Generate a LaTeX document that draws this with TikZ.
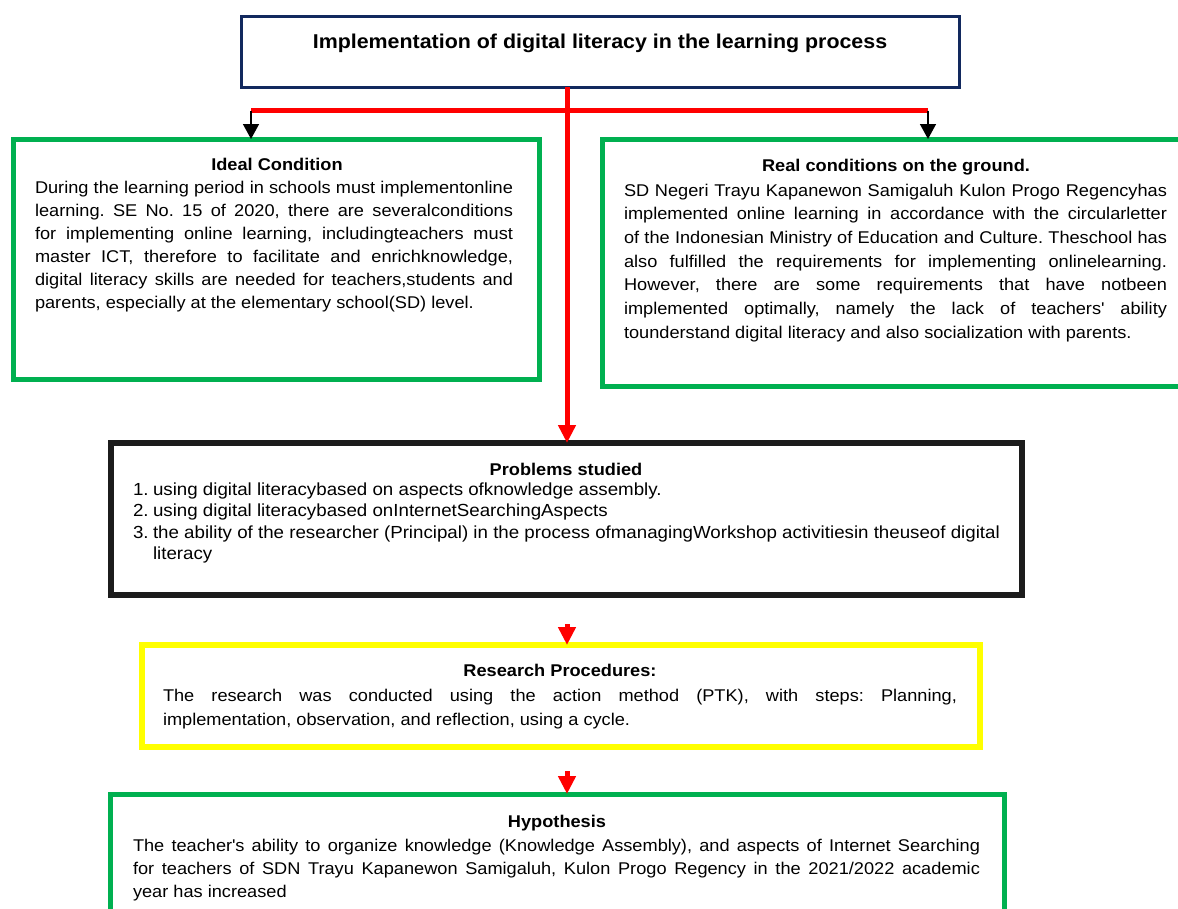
\documentclass[tikz,border=0pt]{standalone}
\usepackage{fontspec}
\setmainfont{Liberation Sans}[FakeStretch=1.07]
\usetikzlibrary{arrows.meta}
\definecolor{navy}{HTML}{12295E}
\definecolor{grn}{HTML}{00B050}
\definecolor{ylw}{HTML}{FFFF00}
\definecolor{blk}{HTML}{1C1C1C}
\definecolor{rd}{HTML}{FF0000}
\frenchspacing
\newcommand{\jl}[2]{\makebox[#1][s]{#2}}
\newcommand{\bodytext}[4][17]{\parbox[t]{#2}{\fontsize{#1}{#3}\selectfont\frenchspacing #4}}
\tikzset{
  box/.style={draw, rectangle, inner sep=0pt, outer sep=0pt},
  body/.style={inner sep=0pt, outer sep=0pt, anchor=base west},
  head/.style={inner sep=0pt, outer sep=0pt, anchor=base, font=\bfseries\fontsize{17}{23}\selectfont},
  redarrow/.style={draw=rd, line width=5pt, -{Triangle[width=17pt,length=18pt]}},
  redline/.style={draw=rd, line width=5.5pt},
  blackarrow/.style={draw=black, line width=1.5pt, -{Triangle[width=16pt,length=15pt]}},
}
\begin{document}
\begin{tikzpicture}[x=1pt,y=-1pt]
\useasboundingbox (0,0) rectangle (1178,908);
% boxes
\node[box, draw=navy, line width=3pt, minimum width=718pt, minimum height=71pt] (top) at (600,51.5) {};
\node[box, draw=grn, line width=5pt, minimum width=526pt, minimum height=240pt] (ideal) at (276,259) {};
\node[box, draw=grn, line width=5pt, minimum width=583pt, minimum height=247pt] (real) at (893.5,262.5) {};
\node[box, draw=blk, line width=6pt, minimum width=911pt, minimum height=152pt] (prob) at (566.5,519) {};
\node[box, draw=ylw, line width=6pt, minimum width=838pt, minimum height=102pt] (research) at (561,696) {};
\node[box, draw=grn, line width=5pt, minimum width=894pt, minimum height=126pt] (hypo) at (557,857) {};
% texts
\node[inner sep=0pt, anchor=base, font=\bfseries\fontsize{20}{24}\selectfont] (title) at (600,48) {Implementation of digital literacy in the learning process};
\node[head] (idealhead) at (277,170) {Ideal Condition};
\node[body] (idealbody) at (35,193) {\bodytext{478pt}{23}{%
\jl{478pt}{During the learning period in schools must implementonline}\\
\jl{478pt}{learning. SE No. 15 of 2020, there are severalconditions}\\
\jl{478pt}{for implementing online learning, includingteachers must}\\
\jl{478pt}{master ICT, therefore to facilitate and enrichknowledge,}\\
\jl{478pt}{digital literacy skills are needed for teachers,students and}\\
parents, especially at the elementary school(SD) level.}};
\node[head] (realhead) at (896,171.5) {Real conditions on the ground.};
\node[body] (realbody) at (624,196) {\bodytext{543pt}{23.7}{%
\jl{543pt}{SD Negeri Trayu Kapanewon Samigaluh Kulon Progo Regencyhas}\\
\jl{543pt}{implemented online learning in accordance with the circularletter}\\
\jl{543pt}{of the Indonesian Ministry of Education and Culture. Theschool has}\\
\jl{543pt}{also fulfilled the requirements for implementing onlinelearning.}\\
\jl{543pt}{However, there are some requirements that have notbeen}\\
\jl{543pt}{implemented optimally, namely the lack of teachers\textquotesingle{} ability}\\
tounderstand digital literacy and also socialization with parents.}};
\node[head] (probhead) at (566,475) {Problems studied};
\node[body] (probbody) at (133,495.5) {\bodytext[17.5]{880pt}{21.3}{%
\makebox[20pt][l]{1.}using digital literacybased on aspects ofknowledge assembly.\\
\makebox[20pt][l]{2.}using digital literacybased onInternetSearchingAspects\\
\makebox[20pt][l]{3.}the ability of the researcher (Principal) in the process ofmanagingWorkshop activitiesin theuseof digital\\
\hspace*{20pt}literacy}};
\node[head] (reshead) at (560,676) {Research Procedures:};
\node[body] (resbody) at (163,701) {\bodytext{794pt}{24}{%
\jl{794pt}{The research was conducted using the action method (PTK), with steps: Planning,}\\
implementation, observation, and reflection, using a cycle.}};
\node[head] (hyphead) at (557,827) {Hypothesis};
\node[body] (hypbody) at (133,851) {\bodytext{847pt}{23.3}{%
\jl{847pt}{The teacher\textquotesingle{}s ability to organize knowledge (Knowledge Assembly), and aspects of Internet Searching}\\
\jl{847pt}{for teachers of SDN Trayu Kapanewon Samigaluh, Kulon Progo Regency in the 2021/2022 academic}\\
year has increased}};
% connectors
\coordinate (spine) at (567,0);
\coordinate (hl) at (251,110.5);
\coordinate (hr) at (928,110.5);
\coordinate (s1) at (567,624);
\coordinate (s2) at (567,771);
\draw[redline] (hl) -- (hr);
\draw[redarrow] (top.south -| spine) -- (prob.north -| spine);
\draw[blackarrow] (hl) -- (hl |- ideal.north);
\draw[blackarrow] (hr) -- (hr |- real.north);
\draw[redarrow] (s1) -- (s1 |- research.north);
\draw[redarrow] (s2) -- (s2 |- hypo.north);
\end{tikzpicture}
\end{document}
